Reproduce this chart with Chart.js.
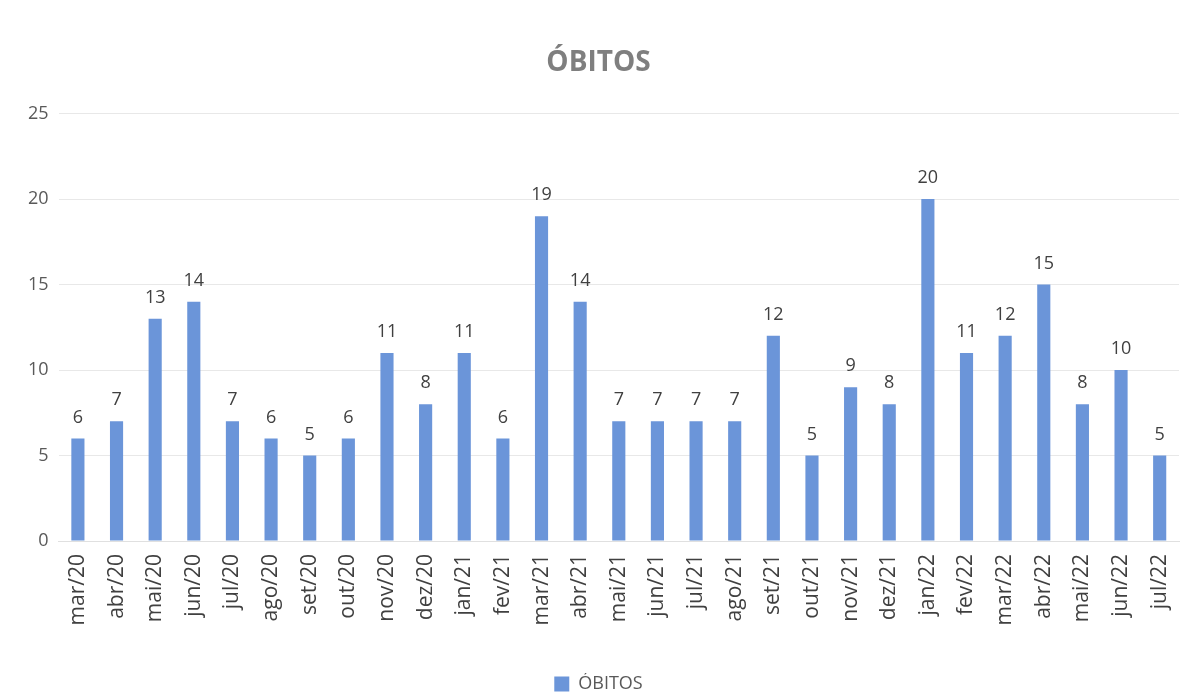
<!DOCTYPE html>
<html>
<head>
<meta charset="utf-8">
<script src="https://cdn.jsdelivr.net/npm/chart.js@4/dist/chart.umd.min.js"></script>
<style>
  html, body { margin: 0; padding: 0; background: #fff; }
  #wrap { width: 1193px; height: 696px; }
</style>
</head>
<body>
<div id="wrap"><canvas id="obitos"></canvas></div>
<script>
// Data
const months = ["mar/20", "abr/20", "mai/20", "jun/20", "jul/20", "ago/20", "set/20", "out/20",
  "nov/20", "dez/20", "jan/21", "fev/21", "mar/21", "abr/21", "mai/21", "jun/21", "jul/21",
  "ago/21", "set/21", "out/21", "nov/21", "dez/21", "jan/22", "fev/22", "mar/22", "abr/22",
  "mai/22", "jun/22", "jul/22"];
const deaths = [6, 7, 13, 14, 7, 6, 5, 6, 11, 8, 11, 6, 19, 14, 7, 7, 7, 7, 12, 5, 9, 8, 20, 11, 12, 15, 8, 10, 5];
const yTicks = [0, 5, 10, 15, 20, 25];

const fontFamily = "'Open Sans', 'Noto Sans', sans-serif";
Chart.defaults.color = "#595959";
Chart.defaults.font.family = fontFamily;

// value labels over the bars
const valueLabels = {
  id: "valueLabels",
  afterDatasetsDraw(chart) {
    const ctx = chart.ctx;
    const meta = chart.getDatasetMeta(0);
    ctx.save();
    ctx.font = "18px " + fontFamily;
    ctx.fillStyle = "#404040";
    ctx.textAlign = "center";
    ctx.textBaseline = "bottom";
    meta.data.forEach((bar, i) => {
      ctx.fillText(deaths[i], bar.x, bar.y - 12);
    });
    ctx.restore();
  }
};

new Chart(document.getElementById("obitos"), {
  type: "bar",
  data: {
    labels: months,
    datasets: [
      {
        label: "ÓBITOS",
        data: deaths,
        backgroundColor: "#6b95d9",
        categoryPercentage: 1,
        barPercentage: 0.34,
      },
    ],
  },
  options: {
    responsive: true,
    maintainAspectRatio: false,
    animation: false,
    layout: { padding: { left: 18, right: 14, top: 46, bottom: -7 } },
    plugins: {
      title: {
        display: true,
        text: "ÓBITOS",
        color: "#7f7f7f",
        font: { size: 28, weight: "bold" },
        padding: { top: 0, bottom: 34 },
      },
      legend: {
        position: "bottom",
        labels: {
          boxWidth: 15,
          boxHeight: 15,
          color: "#595959",
          font: { size: 18 },
          padding: 2,
        },
      },
      tooltip: { enabled: false },
    },
    scales: {
      y: {
        min: 0,
        max: 25,
        afterBuildTicks(axis) {
          axis.ticks = yTicks.map((v) => ({ value: v }));
        },
        ticks: { font: { size: 18 }, color: "#595959", padding: 10 },
        grid: { color: "#e8e8e8", drawTicks: false },
        border: { display: false },
      },
      x: {
        afterFit(scale) {
          scale.height = 132;
        },
        ticks: { font: { size: 21 }, color: "#404040", minRotation: 90, maxRotation: 90, padding: 5 },
        grid: { display: false },
        border: { color: "#e0e0e0" },
      },
    },
  },
  plugins: [valueLabels],
});
</script>
</body>
</html>
